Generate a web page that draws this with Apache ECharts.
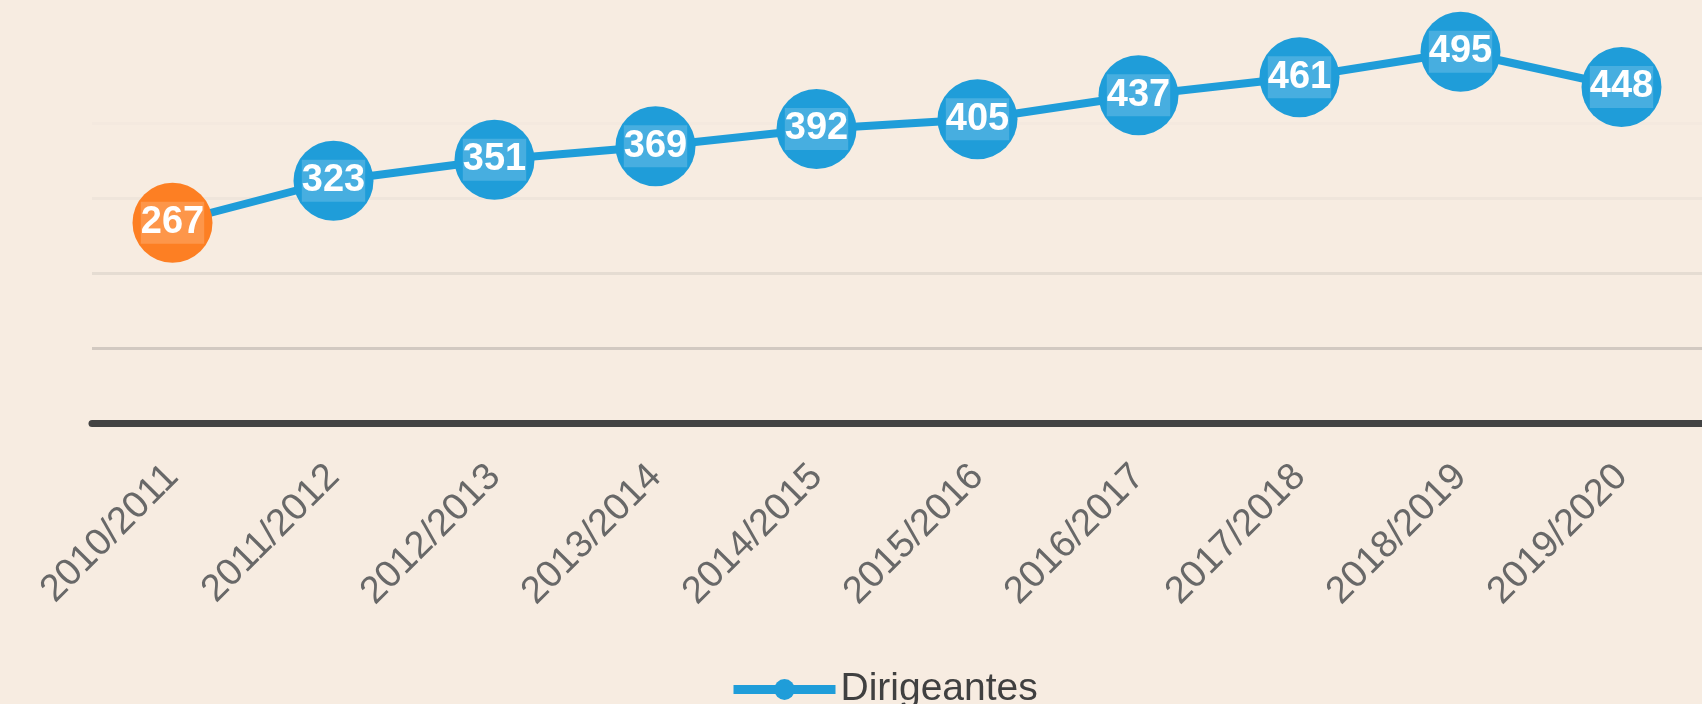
<!DOCTYPE html>
<html>
<head>
<meta charset="utf-8">
<script src="https://cdn.jsdelivr.net/npm/echarts@6/dist/echarts.min.js"></script>
<style>
html,body{margin:0;padding:0;background:#f7ece1;}
#chart{width:1702px;height:704px;}
</style>
</head>
<body>
<div id="chart"></div>
<script>
var categories = ['2010/2011','2011/2012','2012/2013','2013/2014','2014/2015','2015/2016','2016/2017','2017/2018','2018/2019','2019/2020'];
var seriesName = 'Dirigeantes';
var values = [267, 323, 351, 369, 392, 405, 437, 461, 495, 448];
var highlightIndex = 0;

var chart = echarts.init(document.getElementById('chart'), null, {renderer:'canvas'});
var data = values.map(function(v, i){
  if (i === highlightIndex) {
    return {value: v, itemStyle: {color: '#fd7f23'}};
  }
  return v;
});
chart.setOption({
  backgroundColor: '#f7ece1',
  animation: false,
  grid: {left: 92, right: -20, top: 48, bottom: 281, containLabel: false},
  legend: {
    data: [seriesName],
    left: 724,
    top: 665,
    itemWidth: 102,
    itemHeight: 26,
    itemGap: 6,
    lineStyle: {width: 9},
    textStyle: {fontFamily: 'Liberation Sans', fontSize: 39, color: '#404040', padding: [0,0,14,0]}
  },
  xAxis: {
    type: 'category',
    data: categories,
    boundaryGap: true,
    axisLine: {lineStyle: {color: '#434343', width: 7}},
    axisTick: {show: false},
    axisLabel: {rotate: 45, margin: 48, fontFamily: 'Liberation Sans', fontSize: 38, color: '#686868'}
  },
  yAxis: {
    type: 'value',
    min: 0, max: 500, interval: 100,
    axisLine: {show: false},
    axisTick: {show: false},
    axisLabel: {show: false},
    splitLine: {lineStyle: {width: 3, color: ['#d2c9c1','#d2c9c1','#e5dcd2','#efe5db','#f4e9df','#f7ece1']}}
  },
  series: [{
    name: seriesName,
    type: 'line',
    data: data,
    symbol: 'circle',
    symbolSize: 80,
    lineStyle: {width: 8, color: '#1f9dd9'},
    itemStyle: {color: '#1f9dd9'},
    label: {
      show: true,
      position: 'inside',
      fontFamily: 'Liberation Sans',
      fontWeight: 'bold',
      fontSize: 38,
      color: '#ffffff',
      backgroundColor: 'rgba(255,255,255,0.18)',
      padding: [0, 0, 4, 0]
    }
  }]
});
</script>
</body>
</html>
